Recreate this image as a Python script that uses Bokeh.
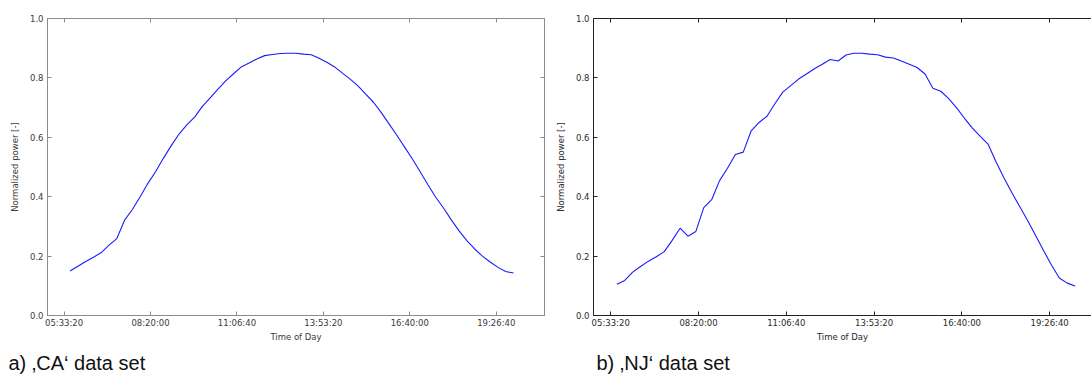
from bokeh.plotting import figure
from bokeh.models import Range1d, FixedTicker, LinearAxis, Title, ColumnDataSource
from bokeh.layouts import row
from bokeh.embed import file_html
from bokeh.resources import INLINE

# ---------------- data ----------------
x_tick_labels = ["05:33:20", "08:20:00", "11:06:40", "13:53:20", "16:40:00", "19:26:40"]
y_tick_values = [0.0, 0.2, 0.4, 0.6, 0.8, 1.0]
y_tick_labels = ["0.0", "0.2", "0.4", "0.6", "0.8", "1.0"]

ca_time = ["05:45", "06:00", "06:15", "06:30", "06:45", "07:00", "07:15", "07:30", "07:45", "08:00",
           "08:15", "08:30", "08:45", "09:00", "09:15", "09:30", "09:45", "10:00", "10:15", "10:30",
           "10:45", "11:00", "11:15", "11:30", "11:45", "12:00", "12:15", "12:30", "12:45", "13:00",
           "13:15", "13:30", "13:45", "14:00", "14:15", "14:30", "14:45", "15:00", "15:15", "15:30",
           "15:45", "16:00", "16:15", "16:30", "16:45", "17:00", "17:15", "17:30", "17:45", "18:00",
           "18:15", "18:30", "18:45", "19:00", "19:15", "19:30", "19:45", "20:00"]
ca_power = [0.150, 0.166, 0.182, 0.196, 0.212, 0.237, 0.259, 0.321, 0.357, 0.400,
            0.445, 0.485, 0.530, 0.572, 0.611, 0.642, 0.668, 0.704, 0.733, 0.762,
            0.790, 0.814, 0.837, 0.850, 0.864, 0.875, 0.879, 0.882, 0.883, 0.883,
            0.880, 0.878, 0.866, 0.853, 0.837, 0.816, 0.796, 0.773, 0.745, 0.718,
            0.683, 0.645, 0.607, 0.567, 0.527, 0.484, 0.440, 0.398, 0.362, 0.322,
            0.285, 0.252, 0.224, 0.200, 0.180, 0.162, 0.148, 0.143]

nj_time = ["05:45", "06:00", "06:15", "06:30", "06:45", "07:00", "07:15", "07:30", "07:45", "08:00",
           "08:15", "08:30", "08:45", "09:00", "09:15", "09:30", "09:45", "10:00", "10:15", "10:30",
           "10:45", "11:00", "11:15", "11:30", "11:45", "12:00", "12:15", "12:30", "12:45", "13:00",
           "13:15", "13:30", "13:45", "14:00", "14:15", "14:30", "14:45", "15:00", "15:15", "15:30",
           "15:45", "16:00", "16:15", "16:30", "16:45", "17:00", "17:15", "17:30", "17:45", "18:00",
           "18:15", "18:30", "18:45", "19:00", "19:15", "19:30", "19:45", "20:00", "20:15"]
nj_power = [0.105, 0.118, 0.146, 0.165, 0.183, 0.198, 0.215, 0.253, 0.294, 0.267,
            0.283, 0.363, 0.390, 0.454, 0.496, 0.542, 0.550, 0.622, 0.650, 0.671,
            0.713, 0.752, 0.774, 0.796, 0.813, 0.831, 0.846, 0.862, 0.857, 0.877,
            0.883, 0.883, 0.880, 0.878, 0.870, 0.867, 0.857, 0.846, 0.835, 0.813,
            0.765, 0.755, 0.730, 0.699, 0.664, 0.631, 0.603, 0.576, 0.517, 0.463,
            0.413, 0.366, 0.319, 0.269, 0.219, 0.170, 0.126, 0.109, 0.099]

captions = ["a) \u201aCA\u2018 data set", "b) \u201aNJ\u2018 data set"]
x_label = "Time of Day"
y_label = "Normalized power [-]"


def to_seconds(s):
    parts = [int(v) for v in s.split(":")]
    while len(parts) < 3:
        parts.append(0)
    return parts[0] * 3600 + parts[1] * 60 + parts[2]


x_ticks = [to_seconds(s) for s in x_tick_labels]
x_overrides = {t: lab for t, lab in zip(x_ticks, x_tick_labels)}
y_overrides = {v: lab for v, lab in zip(y_tick_values, y_tick_labels)}

FONT = "DejaVu Sans"


def style_axis(ax, color, text_color, ticks, overrides, show_labels=True):
    ax.ticker = FixedTicker(ticks=ticks)
    ax.major_label_overrides = overrides
    ax.axis_line_color = color
    ax.axis_line_width = 1
    ax.major_tick_line_color = color
    ax.major_tick_in = 4
    ax.major_tick_out = 0
    ax.minor_tick_line_color = None
    ax.major_label_text_font = FONT
    ax.axis_label_text_font = FONT
    ax.axis_label_text_font_size = "8.5px"
    ax.axis_label_text_font_style = "normal"
    ax.axis_label_text_color = text_color
    if show_labels:
        ax.major_label_text_font_size = "8.5px"
        ax.major_label_text_color = text_color
        ax.major_label_standoff = 2
    else:
        ax.major_label_text_font_size = "1px"
        ax.major_label_text_color = None
        ax.major_label_standoff = 0


def make_panel(times, power, caption, width, height, x_start, x_end,
               b_left, b_top, b_right, spine, text_color, right_axis, cap_offset):
    p = figure(width=width, height=height, output_backend="svg", toolbar_location=None,
               x_range=Range1d(x_start, x_end), y_range=Range1d(0, 1),
               min_border_left=b_left, min_border_top=b_top, min_border_right=b_right,
               min_border_bottom=0, background_fill_color="white", border_fill_color="white")
    p.xgrid.visible = False
    p.ygrid.visible = False
    p.outline_line_color = spine if right_axis else None

    src = ColumnDataSource(dict(t=[to_seconds(s) for s in times], v=power))
    p.line(x="t", y="v", source=src, line_color="#1a1aff", line_width=1.1)

    style_axis(p.xaxis[0], spine, text_color, x_ticks, x_overrides)
    p.xaxis[0].axis_label = x_label
    p.xaxis[0].axis_label_standoff = 1
    style_axis(p.yaxis[0], spine, text_color, y_tick_values, y_overrides)
    p.yaxis[0].major_label_standoff = 4
    p.yaxis[0].axis_label = y_label
    p.yaxis[0].axis_label_standoff = 7

    top = LinearAxis()
    style_axis(top, spine, text_color, x_ticks, {}, show_labels=False)
    p.add_layout(top, "above")
    if right_axis:
        rgt = LinearAxis()
        style_axis(rgt, spine, text_color, y_tick_values, {}, show_labels=False)
        p.add_layout(rgt, "right")

    cap = Title(text=caption, align="left", offset=cap_offset, standoff=10,
                text_font="Liberation Sans", text_font_size="20px",
                text_font_style="normal", text_color="#111111")
    p.add_layout(cap, "below")
    return p


p1 = make_panel(ca_time, ca_power, captions[0], 550, 378, 18080, 75585,
                47, 18, 6, "#8c8c8c", "#3a3a3a", True, -39)
p2 = make_panel(nj_time, nj_power, captions[1], 541, 378, 18040, 74764,
                43, 13, 0, "#222222", "#2a2a2a", False, 3)

layout = row(p1, p2)
open("out.html", "w").write(file_html(layout, INLINE))
